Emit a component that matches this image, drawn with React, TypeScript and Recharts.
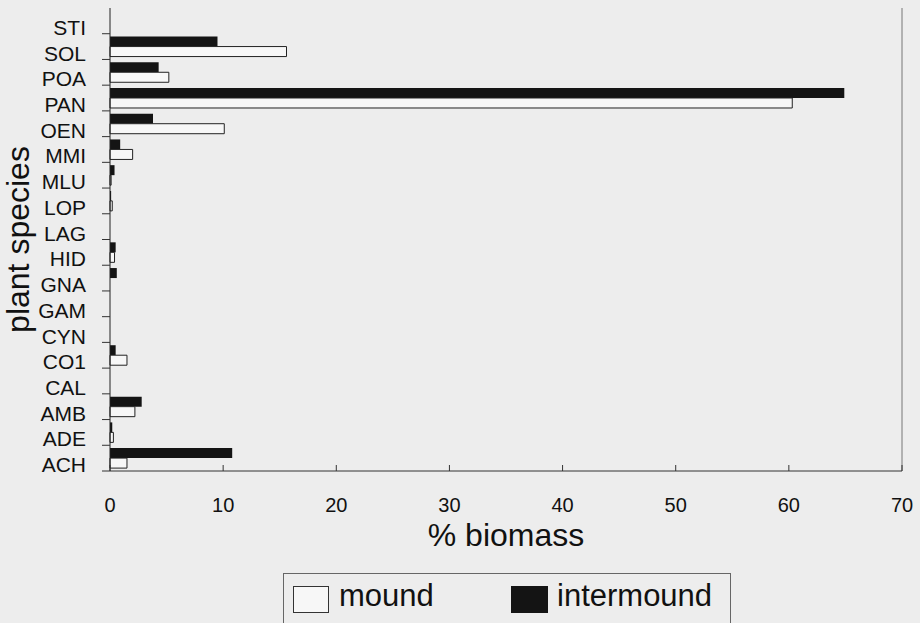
import { Bar, BarChart, ReferenceLine, XAxis, YAxis } from 'recharts'

const species = ['STI', 'SOL', 'POA', 'PAN', 'OEN', 'MMI', 'MLU', 'LOP', 'LAG', 'HID', 'GNA', 'GAM', 'CYN', 'CO1', 'CAL', 'AMB', 'ADE', 'ACH']
const intermound = [0, 9.5, 4.3, 64.9, 3.8, 0.9, 0.4, 0.1, 0, 0.5, 0.6, 0, 0, 0.5, 0, 2.8, 0.2, 10.8]
const mound = [0, 15.6, 5.2, 60.3, 10.1, 2.0, 0.1, 0.2, 0, 0.4, 0, 0, 0, 1.5, 0, 2.2, 0.3, 1.5]
const xTicks = [0, 10, 20, 30, 40, 50, 60, 70]

const data = species.map((name, i) => ({ name, intermound: intermound[i], mound: mound[i] }))

const font = '"Liberation Sans", Arial, sans-serif'
const bg = '#ededed'

function SpeciesTick(props: any) {
  const { x, y, payload } = props
  const axisX = x + 24
  const half = payload.offset || 12.86
  return (
    <g>
      <line x1={axisX - 8} x2={axisX} y1={y + half} y2={y + half} stroke="#333" strokeWidth={1} />
      <text x={x} y={y + 14} textAnchor="end" fontSize={21} fontFamily={font} fill="#111">
        {payload.value}
      </text>
    </g>
  )
}

function BiomassTick(props: any) {
  const { x, y, payload } = props
  return (
    <g>
      <line x1={x} x2={x} y1={y} y2={y - 6} stroke="#333" strokeWidth={1} />
      <text x={x} y={y + 41} textAnchor="middle" fontSize={20} fontFamily={font} fill="#111">
        {payload.value}
      </text>
    </g>
  )
}

export default function App() {
  return (
    <div style={{ position: 'absolute', left: 0, top: 0, width: 920, height: 623, background: bg, overflow: 'hidden' }}>
      <BarChart
        width={920}
        height={623}
        data={data}
        layout="vertical"
        margin={{ top: 8, right: 18, bottom: 0, left: 0 }}
        barCategoryGap="11%"
        barGap={0}
      >
        <XAxis
          type="number"
          domain={[0, 70]}
          ticks={xTicks}
          interval={0}
          height={152}
          tickSize={0}
          tickMargin={0}
          tickLine={false}
          axisLine={{ stroke: '#333' }}
          tick={<BiomassTick />}
          label={{ value: '% biomass', position: 'insideTop', offset: 52, fontSize: 32, fontFamily: font, fill: '#111' }}
        />
        <XAxis xAxisId="top" orientation="top" type="number" domain={[0, 70]} height={0} tick={false} tickLine={false} axisLine={{ stroke: '#777' }} />
        <YAxis
          type="category"
          dataKey="name"
          width={110}
          interval={0}
          tickSize={8}
          tickMargin={16}
          tickLine={false}
          axisLine={{ stroke: '#222' }}
          tick={<SpeciesTick />}
          label={{ value: 'plant species', angle: -90, position: 'center', dx: -37, fontSize: 32, fontFamily: font, fill: '#111' }}
        />
        <ReferenceLine x={70} stroke="#777" />
        <Bar dataKey="intermound" fill="#141414" isAnimationActive={false} />
        <Bar dataKey="mound" fill="#f7f7f7" stroke="#222" strokeWidth={1} isAnimationActive={false} />
      </BarChart>
      <div
        style={{
          position: 'absolute',
          left: 283,
          top: 573,
          width: 448,
          height: 70,
          border: '1px solid #666',
          boxSizing: 'border-box',
          fontFamily: font,
          fontSize: 31,
          color: '#111',
        }}
      >
        <span style={{ position: 'absolute', left: 9, top: 12, width: 36, height: 27, border: '1px solid #333', background: '#f7f7f7', boxSizing: 'border-box' }} />
        <span style={{ position: 'absolute', left: 55, top: 4, lineHeight: '36px' }}>mound</span>
        <span style={{ position: 'absolute', left: 227, top: 12, width: 37, height: 27, background: '#141414' }} />
        <span style={{ position: 'absolute', left: 273, top: 4, lineHeight: '36px' }}>intermound</span>
      </div>
    </div>
  )
}
